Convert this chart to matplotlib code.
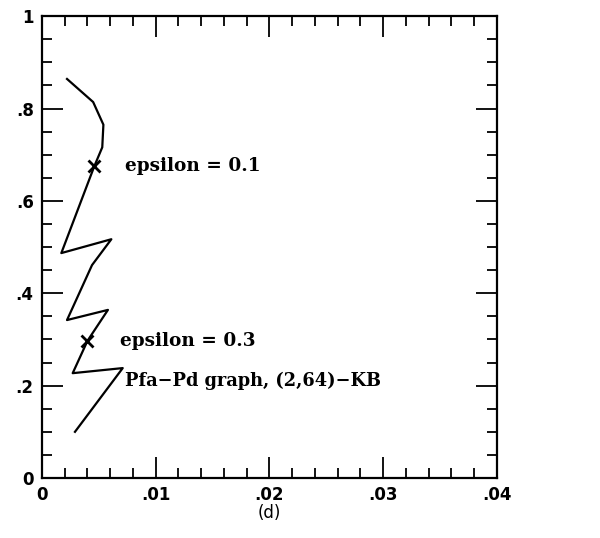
import numpy as np
import matplotlib.pyplot as plt
from matplotlib.ticker import MultipleLocator

# -----------------------------
# Data
# -----------------------------
pfa = [0.0022, 0.0045, 0.0054, 0.0053, 0.0046, 0.0017, 0.0061, 0.0044,
       0.0022, 0.0058, 0.0040, 0.0027, 0.0071, 0.0029]
pd_ = [0.864, 0.814, 0.765, 0.716, 0.675, 0.487, 0.517, 0.461,
       0.342, 0.364, 0.297, 0.227, 0.238, 0.100]

eps_x = [0.0046, 0.0040]
eps_y = [0.675, 0.297]
eps_labels = ["epsilon = 0.1", "epsilon = 0.3"]

x_ticks = [0, 0.01, 0.02, 0.03, 0.04]
x_tick_labels = ["0", ".01", ".02", ".03", ".04"]
y_ticks = [0, 0.2, 0.4, 0.6, 0.8, 1.0]
y_tick_labels = ["0", ".2", ".4", ".6", ".8", "1"]

# -----------------------------
# Plot
# -----------------------------
fig = plt.figure(figsize=(6, 5.38), dpi=100)
ax = fig.add_axes([0.07, 0.1115, 0.758, 0.8585])

ax.plot(pfa, pd_, color="black", lw=1.6)
ax.plot(eps_x, eps_y, "x", color="black", ms=9, mew=2)

ax.text(0.0073, eps_y[0], eps_labels[0], fontsize=13.3, family="DejaVu Serif",
        weight="bold", va="center")
ax.text(0.0069, eps_y[1], eps_labels[1], fontsize=13.3, family="DejaVu Serif",
        weight="bold", va="center")
ax.text(0.0073, 0.21, "Pfa\u2212Pd graph, (2,64)\u2212KB", fontsize=12.8,
        family="DejaVu Serif", weight="bold", va="center")

ax.set_xlim(0, 0.04)
ax.set_ylim(0, 1)
ax.set_xticks(x_ticks)
ax.set_xticklabels(x_tick_labels)
ax.set_yticks(y_ticks)
ax.set_yticklabels(y_tick_labels)
ax.xaxis.set_minor_locator(MultipleLocator(0.002))
ax.yaxis.set_minor_locator(MultipleLocator(0.05))

ax.tick_params(which="both", direction="in", top=True, right=True, width=1.3)
ax.tick_params(which="major", length=15, labelsize=12, pad=6)
ax.tick_params(which="minor", length=7)
for lab in ax.get_xticklabels() + ax.get_yticklabels():
    lab.set_fontweight("bold")
for s in ax.spines.values():
    s.set_linewidth(1.6)

ax.set_xlabel("(d)", fontsize=12, labelpad=0)

plt.savefig("out.png", dpi=100)
